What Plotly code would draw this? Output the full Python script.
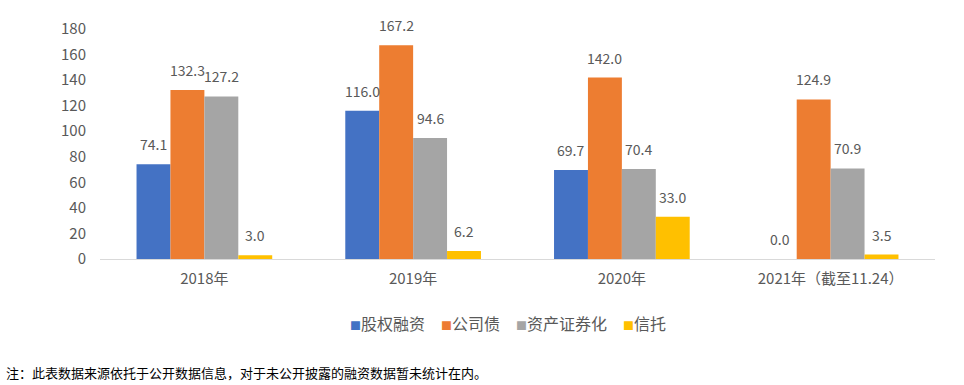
import plotly.graph_objects as go

categories = ["2018年", "2019年", "2020年", "2021年（截至11.24）"]
series_names = ["股权融资", "公司债", "资产证券化", "信托"]
equity = [74.1, 116.0, 69.7, 0.0]
corp_bond = [132.3, 167.2, 142.0, 124.9]
abs_vals = [127.2, 94.6, 70.4, 70.9]
trust = [3.0, 6.2, 33.0, 3.5]
y_ticks = [0, 20, 40, 60, 80, 100, 120, 140, 160, 180]
footnote = "注：此表数据来源依托于公开数据信息，对于未公开披露的融资数据暂未统计在内。"

colors = ["#4472C4", "#ED7D31", "#A5A5A5", "#FFC000"]
all_series = [equity, corp_bond, abs_vals, trust]

W, H = 964, 385
ml, mr, mt, mb = 100, 29, 29, 126
plot_w = W - ml - mr
plot_h = H - mt - mb
bargap = 0.35
bar_w = plot_w / len(categories) * (1 - bargap) / len(all_series)

font_family = "Noto Sans CJK SC, Liberation Sans, sans-serif"

fig = go.Figure()
for name, vals, c in zip(series_names, all_series, colors):
    fig.add_trace(go.Bar(name=name, x=categories, y=vals, marker_color=c,
                         marker_line_width=0, showlegend=False, hoverinfo="skip"))

annotations = []
for i, vals in enumerate(all_series):
    off = (i - 1.5) * bar_w
    for cat, v in zip(categories, vals):
        annotations.append(dict(x=cat, y=v, xref="x", yref="y", text=f"{v:.1f}",
                                showarrow=False, xshift=off, yshift=20,
                                yanchor="middle",
                                font=dict(size=14, color="#595959", family=font_family)))

# legend built from series names and colours
sep = "\u3000"
legend_text = sep.join(
    f"<span style='color:{c};font-size:11px'>■</span>{n}"
    for n, c in zip(series_names, colors)
)
annotations.append(dict(x=(508 - ml) / plot_w, y=(H - mb - 323) / plot_h,
                        xref="paper", yref="paper", xanchor="center", yanchor="middle",
                        text=legend_text, showarrow=False,
                        font=dict(size=16, color="#595959", family=font_family)))

annotations.append(dict(x=(4 - ml) / plot_w, y=(H - mb - 372) / plot_h,
                        xref="paper", yref="paper", xanchor="left", yanchor="middle",
                        text=footnote, showarrow=False,
                        font=dict(size=13, color="#000000", family=font_family)))

fig.update_layout(
    width=W, height=H,
    margin=dict(l=ml, r=mr, t=mt, b=mb, autoexpand=False),
    barmode="group", bargap=bargap, bargroupgap=0,
    plot_bgcolor="white", paper_bgcolor="white",
    font=dict(family=font_family, color="#595959", size=14),
    showlegend=False,
    annotations=annotations,
)
fig.update_yaxes(range=[0, 180], tickvals=y_ticks, showgrid=False, zeroline=False,
                 showline=False, ticks="", tickfont=dict(size=15, color="#595959"),
                 ticklabelstandoff=13)
fig.update_xaxes(showline=True, linecolor="#D9D9D9", linewidth=1, ticks="",
                 tickfont=dict(size=15, color="#595959"), ticklabelstandoff=6)

fig.write_html("out.html", config={"displayModeBar": False},
               post_script="document.body.style.margin='0';document.body.style.overflow='hidden';")
